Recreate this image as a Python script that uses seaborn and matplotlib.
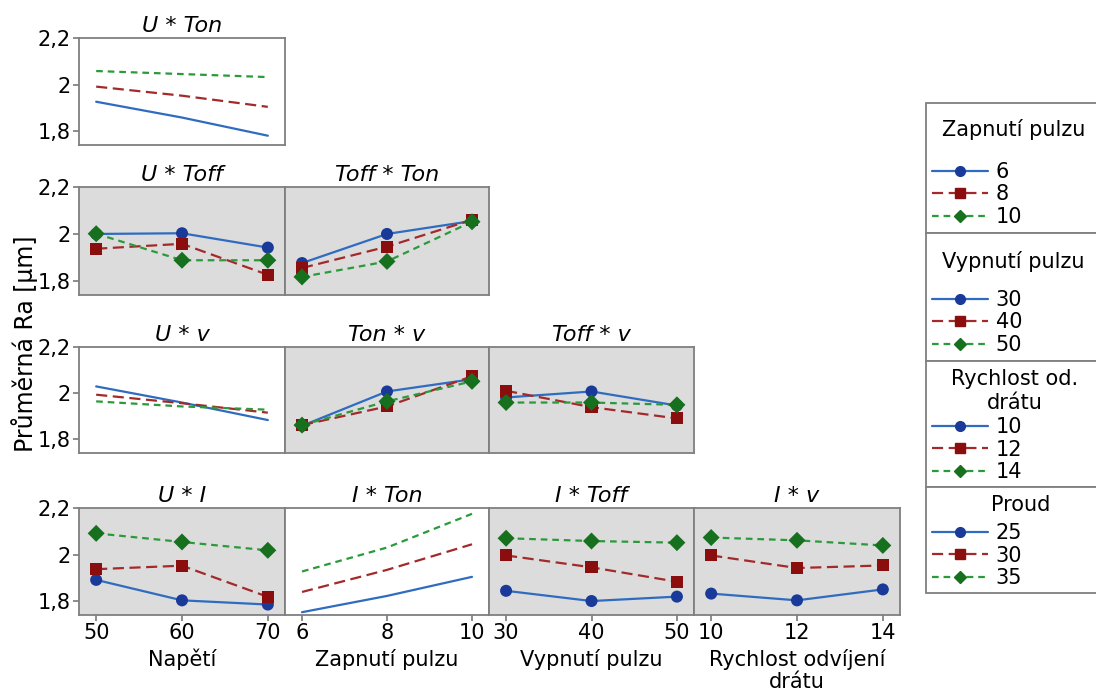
import numpy as np
import pandas as pd
import seaborn as sns
from matplotlib import pyplot as plt
from matplotlib.lines import Line2D
from matplotlib.patches import Rectangle

# factor levels
U_levels = [50, 60, 70]
Ton_levels = [6, 8, 10]
Toff_levels = [30, 40, 50]
v_levels = [10, 12, 14]
I_levels = [25, 30, 35]

# mean Ra, one list per level of the trace factor (rows), x factor along columns
ra_u_ton = [[1.926, 1.858, 1.780], [1.991, 1.952, 1.904], [2.058, 2.045, 2.032]]
ra_u_toff = [[2.000, 2.003, 1.942], [1.937, 1.958, 1.826], [2.001, 1.888, 1.888]]
ra_toff_ton = [[1.876, 2.000, 2.055], [1.855, 1.946, 2.060], [1.817, 1.883, 2.052]]
ra_u_v = [[2.029, 1.959, 1.883], [1.993, 1.956, 1.915], [1.964, 1.942, 1.928]]
ra_ton_v = [[1.858, 2.007, 2.060], [1.861, 1.942, 2.073], [1.861, 1.964, 2.051]]
ra_toff_v = [[1.981, 2.007, 1.946], [2.010, 1.939, 1.890], [1.959, 1.959, 1.949]]
ra_u_i = [[1.891, 1.803, 1.785], [1.937, 1.952, 1.818], [2.091, 2.054, 2.018]]
ra_i_ton = [[1.752, 1.822, 1.904], [1.839, 1.934, 2.044], [1.927, 2.030, 2.175]]
ra_i_toff = [[1.844, 1.800, 1.819], [1.996, 1.945, 1.883], [2.070, 2.058, 2.051]]
ra_i_v = [[1.832, 1.803, 1.850], [1.996, 1.942, 1.953], [2.073, 2.061, 2.039]]

x_labels = ["Napětí", "Zapnutí pulzu", "Vypnutí pulzu", "Rychlost odvíjení\ndrátu"]
y_label = "Průměrná Ra [µm]"
y_ticks = [1.8, 2.0, 2.2]
y_ticklabels = ["1,8", "2", "2,2"]

legend_titles = ["Zapnutí pulzu", "Vypnutí pulzu", "Rychlost od.\ndrátu", "Proud"]
legend_levels = [Ton_levels, Toff_levels, v_levels, I_levels]

sns.set_theme(style="white")
plt.rcParams['font.family'] = ['DejaVu Sans']
for key in ["text.color", "axes.labelcolor", "xtick.color", "ytick.color"]:
    plt.rcParams[key] = "black"

W, H = 1096, 692
fig = plt.figure(figsize=(W / 100, H / 100), dpi=100)

line_colors = ["#2f6cc0", "#a32a2a", "#2a9a3a"]
marker_colors = ["#1a3a9a", "#8a0e0e", "#16701e"]
dash_styles = ["", (5, 2.5), (3, 2.2)]
marker_styles = ["o", "s", "D"]
edge_gray = "#7f7f7f"
panel_gray = "#dcdcdc"

col_px = [(79, 285), (285, 489), (489, 694), (694, 900)]
row_px = [(38, 145), (187, 295), (347, 453), (508, 615)]
col_levels = [U_levels, Ton_levels, Toff_levels, v_levels]

# (row, col, title, values, markers)
panels = [
    (0, 0, "U * Ton", ra_u_ton, False),
    (1, 0, "U * Toff", ra_u_toff, True),
    (1, 1, "Toff * Ton", ra_toff_ton, True),
    (2, 0, "U * v", ra_u_v, False),
    (2, 1, "Ton * v", ra_ton_v, True),
    (2, 2, "Toff * v", ra_toff_v, True),
    (3, 0, "U * I", ra_u_i, True),
    (3, 1, "I * Ton", ra_i_ton, False),
    (3, 2, "I * Toff", ra_i_toff, True),
    (3, 3, "I * v", ra_i_v, True),
]

for row, col, title, values, markers in panels:
    x0, x1 = col_px[col]
    y0, y1 = row_px[row]
    ax = fig.add_axes([x0 / W, 1 - y1 / H, (x1 - x0) / W, (y1 - y0) / H])
    xs = col_levels[col]
    groups = ["a", "b", "c"]
    df = pd.DataFrame({
        "x": np.tile(xs, 3),
        "Ra": np.ravel(values),
        "g": np.repeat(groups, 3),
    })
    sns.lineplot(data=df, x="x", y="Ra", hue="g", style="g",
                 palette=dict(zip(groups, line_colors)),
                 dashes=dict(zip(groups, dash_styles)),
                 linewidth=1.6, legend=False, ax=ax)
    if markers:
        sns.scatterplot(data=df, x="x", y="Ra", hue="g", style="g",
                        palette=dict(zip(groups, marker_colors)),
                        markers=dict(zip(groups, marker_styles)),
                        s=75, linewidth=0, legend=False, ax=ax, zorder=3)
        ax.set_facecolor(panel_gray)
    else:
        ax.set_facecolor("white")

    span = xs[-1] - xs[0]
    ax.set_xlim(xs[0] - 0.1 * span, xs[-1] + 0.1 * span)
    ax.set_ylim(1.74, 2.2)
    ax.set_title(title, fontsize=16, style="italic", pad=4)
    for s in ax.spines.values():
        s.set_color(edge_gray)
        s.set_linewidth(1.3)
    ax.set_xlabel("")
    ax.set_ylabel("")
    if row == 3:
        ax.set_xticks(xs)
        ax.set_xticklabels([str(t) for t in xs], fontsize=15)
        ax.set_xlabel(x_labels[col], fontsize=15, labelpad=4, linespacing=1.15)
        ax.tick_params(axis="x", length=4, color=edge_gray, pad=2, bottom=True)
    else:
        ax.set_xticks([])
    if col == 0:
        ax.set_yticks(y_ticks)
        ax.set_yticklabels(y_ticklabels, fontsize=15)
        ax.tick_params(axis="y", length=4, color=edge_gray, pad=2, left=True)
    else:
        ax.set_yticks([])

fig.text(0.010, 1 - 344 / H, y_label, rotation=90, fontsize=17, va="center", ha="left")

# legend boxes on the right
box_px = [(103, 233), (233, 361), (361, 487), (487, 593)]
title_pos = [(942, 130, "left"), (942, 262, "left"), (1015, 391, "center"), (1021, 505, "center")]
first_entry = [171, 299, 426, 532]
for (t, b), title, levels, (tx, ty, tha), e0 in zip(box_px, legend_titles, legend_levels,
                                                  title_pos, first_entry):
    fig.add_artist(Rectangle((926 / W, 1 - b / H), 200 / W, (b - t) / H,
                             transform=fig.transFigure, facecolor="white",
                             edgecolor=edge_gray, linewidth=1.3))
    fig.text(tx / W, 1 - ty / H, title, fontsize=15, ha=tha, va="center",
             multialignment="center", linespacing=1.3)
    handles = [
        Line2D([], [], color=lc, linestyle=("-" if ds == "" else (0, ds)),
               linewidth=1.6, marker=m, markersize=7 if m != "D" else 6.5,
               markerfacecolor=mc, markeredgecolor=mc)
        for lc, mc, ds, m in zip(line_colors, marker_colors, dash_styles, marker_styles)
    ]
    fig.legend(handles, [str(v) for v in levels],
               loc="upper left", bbox_to_anchor=(932 / W, 1 - (e0 - 9) / H),
               frameon=False, fontsize=15,
               handlelength=2.7, handletextpad=0.35, labelspacing=0.12,
               borderpad=0.0, borderaxespad=0.0)

fig.savefig("out.png", dpi=100)
